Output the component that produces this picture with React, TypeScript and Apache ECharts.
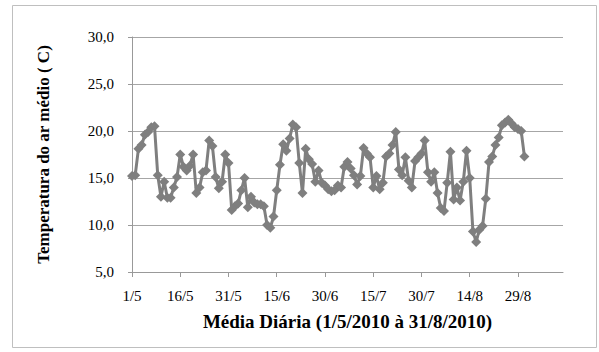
import React, { useEffect, useRef } from "react";
import * as echarts from "echarts";

// Daily mean air temperature, 1/5/2010 .. 31/8/2010 (123 days)
const temperatures: number[] = [
  15.2, 15.3, 18.1, 18.5, 19.6, 19.9, 20.4, 20.5, 15.3, 13.0,
  14.6, 12.9, 12.9, 14.0, 15.1, 17.5, 16.2, 15.8, 16.3, 17.5,
  13.4, 14.0, 15.6, 15.8, 19.0, 18.4, 15.1, 13.9, 14.6, 17.5,
  16.6, 11.6, 12.0, 12.3, 13.7, 15.0, 11.9, 13.0, 12.4, 12.2,
  12.2, 12.0, 10.0, 9.7, 10.9, 13.7, 16.4, 18.6, 17.9, 19.2,
  20.7, 20.4, 16.6, 13.4, 18.1, 17.0, 16.5, 14.6, 15.8, 14.5,
  14.2, 13.8, 13.6, 13.7, 14.2, 14.0, 16.2, 16.7, 16.0, 15.3,
  14.3, 15.2, 18.2, 17.6, 17.2, 14.0, 15.2, 13.8, 14.5, 17.3,
  17.6, 18.5, 19.9, 15.9, 15.3, 17.2, 14.7, 14.0, 16.8, 17.2,
  17.6, 19.0, 15.6, 14.6, 15.6, 13.4, 11.8, 11.5, 14.5, 17.8,
  12.7, 14.0, 12.6, 14.6, 17.9, 15.0, 9.3, 8.2, 9.5, 9.9,
  12.8, 16.7, 17.3, 18.5, 19.3, 20.6, 20.9, 21.2, 20.8, 20.4,
  20.2, 20.0, 17.3,
];

const startDateUTC = Date.UTC(2010, 4, 1);
const dayTickInterval = 15;
const dayAxisMax = 134;
const yTickValues = [5, 10, 15, 20, 25, 30];

const yAxisTitle = "Temperatura do ar médio ( C)";
const xAxisTitle = "Média Diária (1/5/2010 à 31/8/2010)";

function dayLabel(d: number): string {
  const dt = new Date(startDateUTC + d * 86400000);
  return `${dt.getUTCDate()}/${dt.getUTCMonth() + 1}`;
}

export default function App() {
  const ref = useRef<HTMLDivElement>(null);

  useEffect(() => {
    document.body.style.margin = "0";
    if (!ref.current) return;
    const chart = echarts.init(ref.current, undefined, { renderer: "svg" });
    const font = "Liberation Serif";
    const gray = "#7f7f7f";
    chart.setOption({
      animation: false,
      backgroundColor: "#ffffff",
      textStyle: { fontFamily: font, fontSize: 15, color: "#000" },
      graphic: [
        {
          type: "rect",
          shape: { x: 12.5, y: 5.5, width: 584, height: 342 },
          style: { fill: "none", stroke: "#bfbfbf", lineWidth: 1 },
          silent: true,
        },
      ],
      grid: { left: 132, right: 36, top: 37, bottom: 80 },
      xAxis: {
        type: "value",
        min: 0,
        max: dayAxisMax,
        interval: dayTickInterval,
        name: xAxisTitle,
        nameLocation: "middle",
        nameGap: 40,
        nameTextStyle: {
          fontFamily: font,
          fontSize: 19,
          fontWeight: "bold",
          color: "#000",
        },
        axisLine: { show: true, lineStyle: { color: "#999999", width: 1 } },
        axisTick: { show: true, length: 5, lineStyle: { color: "#999999" } },
        axisLabel: {
          formatter: (v: number) => dayLabel(v),
          fontFamily: font,
          fontSize: 15,
          color: "#000",
          margin: 16,
          showMaxLabel: false,
        },
        splitLine: { show: false },
      },
      yAxis: {
        type: "value",
        min: yTickValues[0],
        max: yTickValues[yTickValues.length - 1],
        interval: yTickValues[1] - yTickValues[0],
        name: yAxisTitle,
        nameLocation: "middle",
        nameGap: 80,
        nameRotate: 90,
        nameTextStyle: {
          fontFamily: font,
          fontSize: 17,
          fontWeight: "bold",
          color: "#000",
        },
        axisLine: { show: true, lineStyle: { color: "#999999", width: 1 } },
        axisTick: { show: true, length: 4, lineStyle: { color: "#999999" } },
        axisLabel: {
          formatter: (v: number) => v.toFixed(1).replace(".", ","),
          fontFamily: font,
          fontSize: 15,
          color: "#000",
          margin: 18,
        },
        splitLine: { show: true, lineStyle: { color: "#a6a6a6", width: 1 } },
      },
      series: [
        {
          type: "line",
          data: temperatures.map((v, i) => [i, v]),
          symbol: "diamond",
          symbolSize: 10,
          showAllSymbol: true,
          lineStyle: { color: gray, width: 3 },
          itemStyle: { color: gray },
        },
      ],
    });
    return () => chart.dispose();
  }, []);

  return (
    <div
      ref={ref}
      style={{ position: "absolute", left: 0, top: 0, width: 599, height: 352 }}
    />
  );
}
